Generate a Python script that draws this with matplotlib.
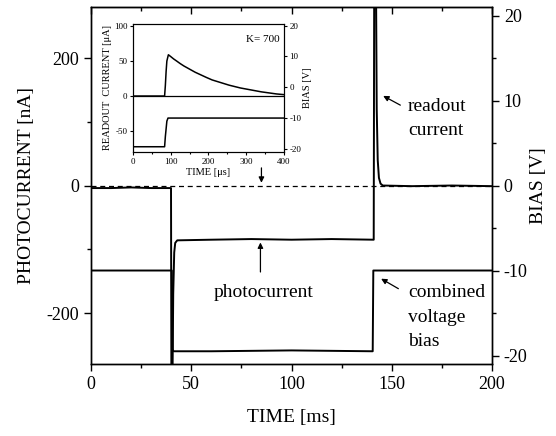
import numpy as np
import matplotlib
matplotlib.use("Agg")
import matplotlib.pyplot as plt
from matplotlib.ticker import MultipleLocator

plt.rcParams['font.family'] = ['Liberation Serif', 'DejaVu Serif']
plt.rcParams['axes.unicode_minus'] = False

# ========================
# Main trace data
# ========================
time_ms = [0, 10, 20, 30, 39.9, 40.1, 40.6, 41.0, 41.5, 42.0, 43.0, 60, 80,
           100, 120, 141.0, 141.3, 142.0, 142.5, 143.0, 143.6, 144.4, 145.5,
           160, 180, 200]
current_na = [-4, -4, -3, -4, -4, -320, -320, -170, -105, -90, -86, -85, -84,
              -85, -84, -85, 400, 400, 120, 40, 12, 3, 0,
              -1, 0, -1]

bias_time_ms = [0, 20, 40.3, 40.7, 41.2, 60, 100, 140.5, 140.8, 160, 200]
bias_v = [-10, -10, -10, -19.3, -19.5, -19.5, -19.4, -19.5, -10, -10, -10]

# ========================
# Inset data (K = 700)
# ========================
inset_t_us = [0, 50, 84, 86, 88, 90, 94, 100, 108, 116, 125, 135, 145, 155,
              165, 175, 185, 195, 210, 225, 240, 255, 270, 285, 300, 320,
              340, 360, 380, 400]
readout_ua = [0, 0, 0, 15, 35, 50, 59, 56.5, 53, 50, 46.5, 43, 40, 37,
              34, 31.5, 29, 26.5, 23, 20.5, 18, 15.5, 13.5, 11.5, 10, 8,
              6, 4.5, 3, 2]

inset_bias_t_us = [0, 50, 84, 86, 90, 93, 150, 250, 400]
inset_bias_v = [-19.3, -19.3, -19.3, -16, -11, -10, -10, -10, -10]

# ========================
# Figure
# ========================
fig = plt.figure(figsize=(5.56, 4.36), dpi=100)
ax = fig.add_axes([0.1637, 0.1651, 0.7212, 0.8188])
ax2 = ax.twinx()

ax.plot(time_ms, current_na, color="black", lw=1.4)
ax.axhline(0, color="black", lw=0.9, ls=(0, (4, 3)))
ax2.plot(bias_time_ms, bias_v, color="black", lw=1.4)

ax.set_xlim(0, 200)
ax.set_ylim(-280, 280)
ax2.set_ylim(-21, 21)

ax.xaxis.set_major_locator(MultipleLocator(50))
ax.xaxis.set_minor_locator(MultipleLocator(25))
ax.yaxis.set_major_locator(MultipleLocator(200))
ax.yaxis.set_minor_locator(MultipleLocator(100))
ax2.yaxis.set_major_locator(MultipleLocator(10))
ax2.yaxis.set_minor_locator(MultipleLocator(5))

ax.tick_params(axis="x", which="both", direction="out", top=False, labelsize=13)
ax.tick_params(axis="y", which="both", direction="out", labelsize=13)
ax.tick_params(which="major", length=5, width=1)
ax.tick_params(which="minor", length=3, width=1)
ax2.tick_params(axis="y", which="both", direction="out", labelsize=13)
ax2.tick_params(which="major", length=5, width=1)
ax2.tick_params(which="minor", length=3, width=1)

# top ticks point inward
top = ax.secondary_xaxis("top")
top.xaxis.set_major_locator(MultipleLocator(50))
top.xaxis.set_minor_locator(MultipleLocator(25))
top.tick_params(which="both", direction="in", labeltop=False)
top.tick_params(which="major", length=5, width=1)
top.tick_params(which="minor", length=3, width=1)

for a in (ax, ax2):
    for s in a.spines.values():
        s.set_linewidth(1.0)

ax.set_xlabel("TIME [ms]", fontsize=14, labelpad=12)
ax.set_ylabel("PHOTOCURRENT [nA]", fontsize=14, labelpad=8)
ax2.set_ylabel("BIAS [V]", fontsize=14, labelpad=2)

# ========================
# Annotations
# ========================
arrow = dict(arrowstyle="-|>", color="black", lw=0.9, mutation_scale=8)
ax.annotate("", xy=(85, 0), xytext=(85, 32), arrowprops=arrow)
ax.annotate("", xy=(84.5, -85), xytext=(84.5, -140), arrowprops=arrow)
ax.text(86, -168, "photocurrent", fontsize=14, ha="center", va="center")

ax2.annotate("", xy=(144.5, 10.7), xytext=(155.5, 9.3), arrowprops=arrow)
ax2.text(158, 9.3, "readout", fontsize=14, ha="left", va="center")
ax2.text(158, 6.5, "current", fontsize=14, ha="left", va="center")

ax2.annotate("", xy=(143.5, -10.8), xytext=(154.5, -12.3), arrowprops=arrow)
ax2.text(158, -12.6, "combined", fontsize=14, ha="left", va="center")
ax2.text(158, -15.5, "voltage", fontsize=14, ha="left", va="center")
ax2.text(158, -18.3, "bias", fontsize=14, ha="left", va="center")

# ========================
# Inset
# ========================
ins = fig.add_axes([0.239, 0.6514, 0.2716, 0.2936])
ins2 = ins.twinx()
ins.plot(inset_t_us, readout_ua, color="black", lw=1.1)
ins.axhline(0, color="black", lw=0.9)
ins2.plot(inset_bias_t_us, inset_bias_v, color="black", lw=1.1)

ins.set_xlim(0, 400)
ins.set_ylim(-80, 103)
ins2.set_ylim(-21, 20.5)
ins.xaxis.set_major_locator(MultipleLocator(100))
ins.xaxis.set_minor_locator(MultipleLocator(50))
ins.yaxis.set_major_locator(MultipleLocator(50))
ins2.yaxis.set_major_locator(MultipleLocator(10))

ins.tick_params(which="both", direction="out", labelsize=6.5, length=2.5, width=0.8, pad=1.5)
ins.tick_params(which="minor", length=1.5)
ins2.tick_params(which="both", direction="out", labelsize=6.5, length=2.5, width=0.8, pad=1.5)
for a in (ins, ins2):
    for s in a.spines.values():
        s.set_linewidth(0.8)

ins.set_xlabel("TIME [μs]", fontsize=7.5, labelpad=2)
ins.set_ylabel("READOUT  CURRENT [μA]", fontsize=7.5, labelpad=1)
ins2.set_ylabel("BIAS [V]", fontsize=7.5, labelpad=1)
ins.text(0.86, 0.88, "K= 700", transform=ins.transAxes, fontsize=8,
         ha="center", va="center")

fig.savefig("out.png", dpi=100)
